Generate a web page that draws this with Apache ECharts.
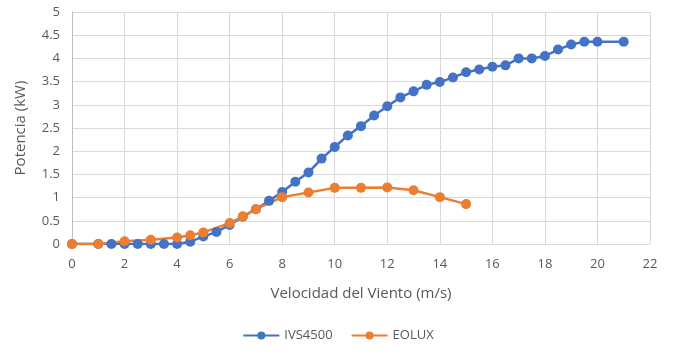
<!DOCTYPE html>
<html><head><meta charset="utf-8">
<script src="https://cdn.jsdelivr.net/npm/echarts@6/dist/echarts.min.js"></script>
<style>html,body{margin:0;padding:0;background:#fff}#c{width:676px;height:354px}</style>
</head><body><div id="c"></div>
<script>
const ivsX = [0,1,1.5,2,2.5,3,3.5,4,4.5,5,5.5,6,6.5,7,7.5,8,8.5,9,9.5,10,10.5,11,11.5,12,12.5,13,13.5,14,14.5,15,15.5,16,16.5,17,17.5,18,18.5,19,19.5,20,21];
const ivsY = [0,0,0,0,0,0,0,0,0.05,0.16,0.26,0.41,0.59,0.75,0.93,1.12,1.34,1.54,1.84,2.09,2.34,2.54,2.77,2.97,3.16,3.29,3.43,3.49,3.59,3.70,3.76,3.82,3.85,4.0,4.0,4.05,4.19,4.3,4.36,4.36,4.36];
const eoluxX = [0,1,2,3,4,4.5,5,6,6.5,7,8,9,10,11,12,13,14,15];
const eoluxY = [0,0,0.06,0.09,0.14,0.19,0.25,0.45,0.59,0.75,1.01,1.11,1.21,1.21,1.22,1.16,1.01,0.86];
const seriesNames = ['IVS4500','EOLUX'];
const xTitle = 'Velocidad del Viento (m/s)';
const yTitle = 'Potencia (kW)';

const pair = (xs, ys) => xs.map((x, i) => [x, ys[i]]);
const font = 'Open Sans, Noto Sans, sans-serif';
const chart = echarts.init(document.getElementById('c'));
chart.setOption({
  animation: false,
  grid: {left: 72, right: 26, top: 12, bottom: 110},
  xAxis: {
    type: 'value', min: 0, max: 22, interval: 2,
    name: xTitle, nameLocation: 'middle', nameGap: 42,
    nameTextStyle: {color: '#595959', fontSize: 15, fontFamily: font},
    axisLine: {show: false},
    axisTick: {show: false},
    axisLabel: {color: '#595959', fontSize: 13, fontFamily: font, margin: 14},
    splitLine: {lineStyle: {color: '#d9d9d9', width: 1}}
  },
  yAxis: {
    type: 'value', min: 0, max: 5, interval: 0.5,
    name: yTitle, nameLocation: 'middle', nameGap: 44,
    nameTextStyle: {color: '#595959', fontSize: 15, fontFamily: font},
    axisLine: {show: true, lineStyle: {color: '#bfbfbf', width: 1}},
    axisTick: {show: false},
    axisLabel: {color: '#595959', fontSize: 13, fontFamily: font, margin: 12},
    splitLine: {lineStyle: {color: '#d9d9d9', width: 1}}
  },
  legend: {
    bottom: 7, left: 'center', itemWidth: 36, itemHeight: 10, itemGap: 18,
    textStyle: {color: '#595959', fontSize: 13, fontFamily: font},
    data: seriesNames
  },
  series: [
    {name: seriesNames[0], type: 'line', data: pair(ivsX, ivsY), symbol: 'circle', symbolSize: 10,
     lineStyle: {width: 2.5, color: '#4472C4'}, itemStyle: {color: '#4472C4'}},
    {name: seriesNames[1], type: 'line', data: pair(eoluxX, eoluxY), symbol: 'circle', symbolSize: 10,
     lineStyle: {width: 2.5, color: '#ED7D31'}, itemStyle: {color: '#ED7D31'}}
  ]
});
</script></body></html>
